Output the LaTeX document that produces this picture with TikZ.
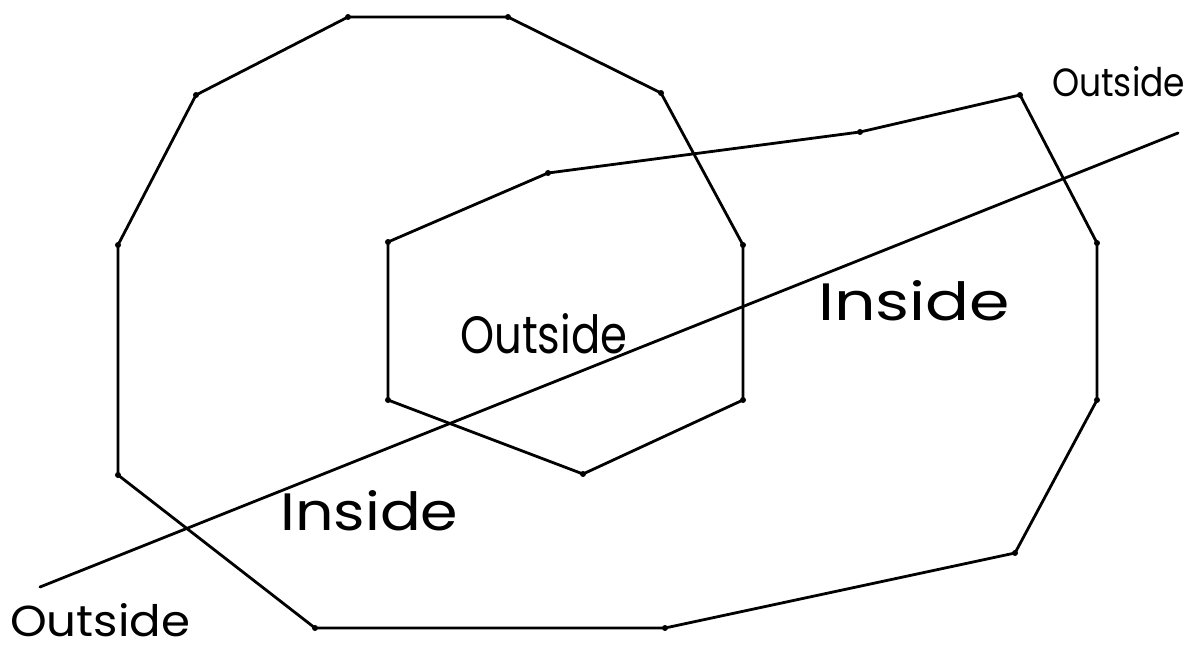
\documentclass[tikz,border=0pt]{standalone}
\usepackage{fontspec}
\setmainfont{Poppins}
\newcommand\handtxt[3]{\resizebox{#1}{#2}{#3}}
\begin{document}
\begin{tikzpicture}[x=1pt,y=-1pt,
  edge/.style={line width=2.8pt, line join=round, line cap=round},
  vtx/.style={circle, fill, inner sep=0pt, minimum size=6pt},
  lbl/.style={inner sep=0pt, anchor=base west}]
\useasboundingbox (0,0) rectangle (1197,650);
\foreach \n/\x/\y in {A/348/17, B/508/17, C/661/93, D/743/245, E/743/400,
  F/583/474, G/388/400, H/388/242, I/548/173, J/860/132, K/1020/95,
  L/1097/243, M/1097/400, N/1015/553, O/665/628, P/315/628, Q/118/475,
  R/118/245, S/196/95}
  {\node[vtx] (\n) at (\x,\y) {};}
\draw[edge] (A.center) -- (B.center) -- (C.center) -- (D.center) -- (E.center)
  -- (F.center) -- (G.center) -- (H.center) -- (I.center) -- (J.center)
  -- (K.center) -- (L.center) -- (M.center) -- (N.center) -- (O.center)
  -- (P.center) -- (Q.center) -- (R.center) -- (S.center) -- cycle;
\coordinate (l1) at (40,587);
\coordinate (l2) at (1178,133);
\draw[edge] (l1) -- (l2);
\node[lbl] (o1) at (10,636) {\handtxt{180pt}{33pt}{Outside}};
\node[lbl] (o2) at (1052,97) {\handtxt{133pt}{30pt}{Outside}};
\node[lbl] (o3) at (460,353) {\handtxt{167pt}{40pt}{Outside}};
\node[lbl] (i1) at (818,320) {\handtxt{192pt}{40pt}{Inside}};
\node[lbl] (i2) at (280,530) {\handtxt{178pt}{40pt}{Inside}};
\end{tikzpicture}
\end{document}
